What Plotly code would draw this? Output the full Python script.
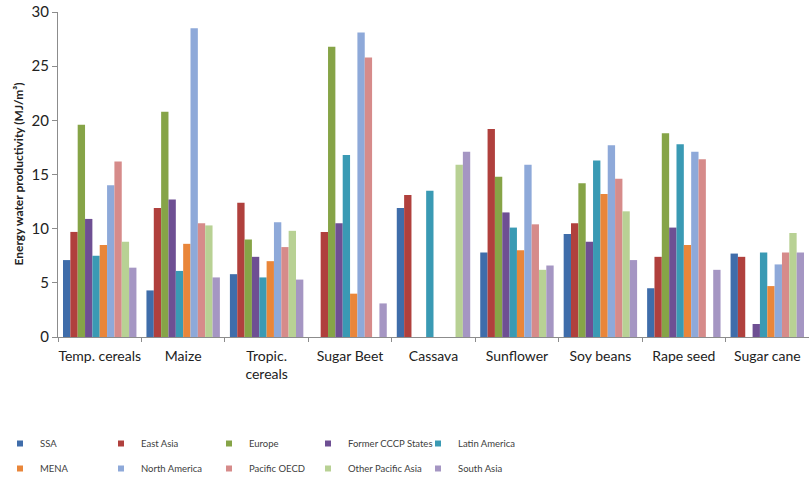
import plotly.graph_objects as go

categories = ["Temp. cereals", "Maize", "Tropic.<br>cereals", "Sugar Beet", "Cassava",
              "Sunflower", "Soy beans", "Rape seed", "Sugar cane"]

series_names = ["SSA", "East Asia", "Europe", "Former CCCP States", "Latin America",
                "MENA", "North America", "Pacific OECD", "Other Pacific Asia", "South Asia"]

ssa = [7.1, 4.3, 5.8, None, 11.9, 7.8, 9.5, 4.5, 7.7]
east_asia = [9.7, 11.9, 12.4, 9.7, 13.1, 19.2, 10.5, 7.4, 7.4]
europe = [19.6, 20.8, 9.0, 26.8, None, 14.8, 14.2, 18.8, None]
former_cccp = [10.9, 12.7, 7.4, 10.5, None, 11.5, 8.8, 10.1, 1.2]
latin_america = [7.5, 6.1, 5.5, 16.8, 13.5, 10.1, 16.3, 17.8, 7.8]
mena = [8.5, 8.6, 7.0, 4.0, None, 8.0, 13.2, 8.5, 4.7]
north_america = [14.0, 28.5, 10.6, 28.1, None, 15.9, 17.7, 17.1, 6.7]
pacific_oecd = [16.2, 10.5, 8.3, 25.8, None, 10.4, 14.6, 16.4, 7.8]
other_pacific_asia = [8.8, 10.3, 9.8, None, 15.9, 6.2, 11.6, None, 9.6]
south_asia = [6.4, 5.5, 5.3, 3.1, 17.1, 6.6, 7.1, 6.2, 7.8]

series_values = [ssa, east_asia, europe, former_cccp, latin_america,
                 mena, north_america, pacific_oecd, other_pacific_asia, south_asia]

colors = ["#3F6DAA", "#B0403D", "#86A447", "#6E4F93", "#3A9AB4",
          "#E9863A", "#8EA9D9", "#D68B8A", "#B8D194", "#A596C3"]

y_ticks = [0, 5, 10, 15, 20, 25, 30]
y_title = "<b>Energy water productivity (MJ/m³)</b>"

FONT = "Lato, 'Open Sans', sans-serif"

fig = go.Figure()
for name, vals, col in zip(series_names, series_values, colors):
    fig.add_trace(go.Bar(x=categories, y=vals, name=name, marker_color=col,
                         marker_line_width=0, showlegend=False))

# legend entries: 5 columns x 2 rows
legend_ids = ["legend", "legend2", "legend3", "legend4", "legend5"]
for i, (name, col) in enumerate(zip(series_names, colors)):
    fig.add_trace(go.Scatter(x=[categories[0]], y=[None], mode="markers", name=name,
                             legendgroup=name, hoverinfo="skip",
                             marker=dict(symbol="square", size=6, color=col),
                             legend=legend_ids[i % 5], showlegend=True))

legend_left = [0, 101, 209, 308, 418]
W, H = 809, 477
leg_common = dict(orientation="v", xref="container", yref="container",
                  xanchor="left", yanchor="top", y=1 - 429 / H,
                  font=dict(family=FONT, size=9.5, color="#404040"),
                  bgcolor="rgba(0,0,0,0)", traceorder="grouped", tracegroupgap=6,
                  itemsizing="trace")
legends = {}
for i, lid in enumerate(legend_ids):
    legends[lid] = dict(x=legend_left[i] / W, **leg_common)

fig.update_layout(
    width=W, height=H,
    margin=dict(l=58, r=0, t=12, b=140, autoexpand=False),
    plot_bgcolor="white", paper_bgcolor="white",
    barmode="group", bargap=0.12, bargroupgap=0,
    font=dict(family=FONT, color="#222222"),
    xaxis=dict(type="category", showline=True, linecolor="#8C8C8C", linewidth=1,
               ticks="outside", tickson="boundaries", ticklen=4, tickcolor="#8C8C8C",
               tickangle=0, ticklabelstandoff=6,
               tickfont=dict(family=FONT, size=14, color="#222222"),
               showgrid=False, fixedrange=True, automargin=False),
    yaxis=dict(range=[0, 30], tickvals=y_ticks, showline=True, linecolor="#8C8C8C",
               linewidth=1, ticks="outside", ticklen=5, tickcolor="#8C8C8C",
               tickfont=dict(family=FONT, size=15, color="#222222"),
               showgrid=False, zeroline=False, automargin=False, fixedrange=True),
    annotations=[dict(text=y_title, xref="paper", yref="paper", x=-40 / 751, y=0.5,
                      xanchor="center", yanchor="middle", textangle=-90, showarrow=False,
                      font=dict(family=FONT, size=12, color="#222222"))],
    **legends,
)

fig.write_html("out.html", config={"displayModeBar": False},
               post_script="document.body.style.margin='0px';")
